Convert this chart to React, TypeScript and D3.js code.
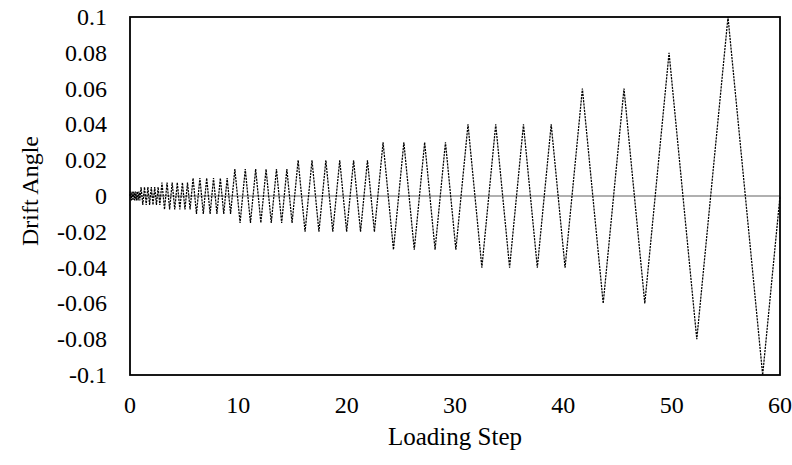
import React from "react";
import * as d3 from "d3";

// Loading protocol turning points
const loadingSteps: number[] = [
  0,
  0.039, 0.118, 0.197, 0.275, 0.354, 0.433, 0.511, 0.59, 0.669, 0.747, 0.826, 0.905,
  1.023, 1.18, 1.338, 1.495, 1.652, 1.81, 1.967, 2.124, 2.282, 2.439, 2.596, 2.754,
  2.95, 3.186, 3.422, 3.658, 3.894, 4.13, 4.366, 4.602, 4.838, 5.074, 5.31, 5.546,
  5.821, 6.136, 6.451, 6.765, 7.08, 7.395, 7.71, 8.024, 8.339, 8.654, 8.968, 9.283,
  9.68, 10.16, 10.64, 11.12, 11.6, 12.08, 12.56, 13.04, 13.52, 14.0, 14.48, 14.96,
  15.52, 16.16, 16.8, 17.44, 18.08, 18.72, 19.36, 20.0, 20.64, 21.28, 21.92, 22.56,
  23.36, 24.32, 25.28, 26.24, 27.2, 28.16, 29.12, 30.08,
  31.2, 32.48, 33.76, 35.04, 36.32, 37.6, 38.88, 40.16,
  41.76, 43.68, 45.6, 47.52,
  49.76, 52.32,
  55.2, 58.4,
  60,
];

const driftAngles: number[] = [
  0,
  0.0025, -0.0025, 0.0025, -0.0025, 0.0025, -0.0025, 0.0025, -0.0025, 0.0025, -0.0025, 0.0025, -0.0025,
  0.005, -0.005, 0.005, -0.005, 0.005, -0.005, 0.005, -0.005, 0.005, -0.005, 0.005, -0.005,
  0.0075, -0.0075, 0.0075, -0.0075, 0.0075, -0.0075, 0.0075, -0.0075, 0.0075, -0.0075, 0.0075, -0.0075,
  0.01, -0.01, 0.01, -0.01, 0.01, -0.01, 0.01, -0.01, 0.01, -0.01, 0.01, -0.01,
  0.015, -0.015, 0.015, -0.015, 0.015, -0.015, 0.015, -0.015, 0.015, -0.015, 0.015, -0.015,
  0.02, -0.02, 0.02, -0.02, 0.02, -0.02, 0.02, -0.02, 0.02, -0.02, 0.02, -0.02,
  0.03, -0.03, 0.03, -0.03, 0.03, -0.03, 0.03, -0.03,
  0.04, -0.04, 0.04, -0.04, 0.04, -0.04, 0.04, -0.04,
  0.06, -0.06, 0.06, -0.06,
  0.08, -0.08,
  0.1, -0.1,
  0,
];

const xTicks: number[] = [0, 10, 20, 30, 40, 50, 60];
const yTicks: number[] = [0.1, 0.08, 0.06, 0.04, 0.02, 0, -0.02, -0.04, -0.06, -0.08, -0.1];

const xTitle = "Loading Step";
const yTitle = "Drift Angle";

const W = 792;
const H = 465;
const M = { left: 130, right: 780, top: 17, bottom: 375 };
const FONT = "'Liberation Serif', 'Times New Roman', serif";

export default function App() {
  const x = d3.scaleLinear().domain([0, 60]).range([M.left, M.right]);
  const y = d3.scaleLinear().domain([-0.1, 0.1]).range([M.bottom, M.top]);

  const pts: [number, number][] = loadingSteps.map((s, i) => [s, driftAngles[i]]);
  const line = d3
    .line<[number, number]>()
    .x((d) => x(d[0]))
    .y((d) => y(d[1]));

  return (
    <svg
      width={W}
      height={H}
      style={{ position: "absolute", left: 0, top: 0, background: "#fff" }}
      fontFamily={FONT}
    >
      <rect x={0} y={0} width={W} height={H} fill="#fff" />
      {/* zero line */}
      <line x1={x(0)} x2={x(60)} y1={y(0)} y2={y(0)} stroke="#b0b0b0" strokeWidth={2} />
      {/* series */}
      <path
        d={line(pts) || ""}
        fill="none"
        stroke="#000"
        strokeWidth={1.25}
        strokeDasharray="2.2,1"
      />
      {/* plot border */}
      <rect
        x={M.left}
        y={M.top}
        width={M.right - M.left}
        height={M.bottom - M.top}
        fill="none"
        stroke="#000"
        strokeWidth={1.8}
      />
      {/* y tick labels */}
      {yTicks.map((t) => (
        <text key={"y" + t} x={107} y={y(t) + 8} textAnchor="end" fontSize={24} fill="#000">
          {String(t)}
        </text>
      ))}
      {/* x tick labels */}
      {xTicks.map((t) => (
        <text key={"x" + t} x={x(t)} y={413} textAnchor="middle" fontSize={24} fill="#000">
          {String(t)}
        </text>
      ))}
      <text x={455} y={445} textAnchor="middle" fontSize={25} fill="#000">
        {xTitle}
      </text>
      <text
        transform={`translate(38,191) rotate(-90)`}
        textAnchor="middle"
        fontSize={24}
        fill="#000"
      >
        {yTitle}
      </text>
    </svg>
  );
}
